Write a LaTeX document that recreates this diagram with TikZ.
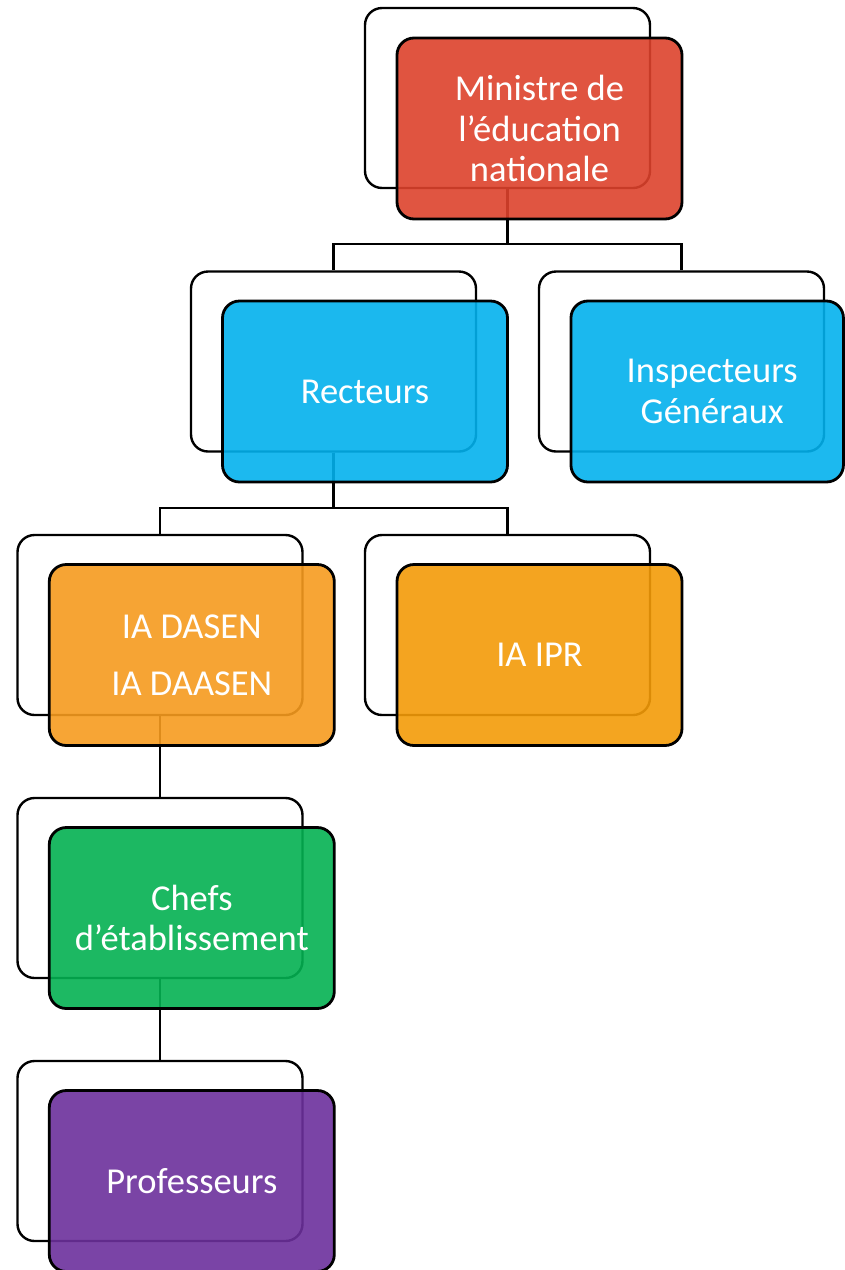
\documentclass[tikz,border=0pt]{standalone}
\usepackage{fontspec}
\setmainfont{Carlito}
\definecolor{cRed}{RGB}{221,66,44}
\definecolor{cBlue}{RGB}{3,177,237}
\definecolor{cOrangeA}{RGB}{246,155,31}
\definecolor{cOrangeB}{RGB}{243,155,8}
\definecolor{cGreen}{RGB}{4,177,82}
\definecolor{cPurple}{RGB}{108,48,156}
\tikzset{
  backbox/.style={draw=black, line width=2.4pt, fill=white, rounded corners=17pt,
    minimum width=285pt, minimum height=180pt, inner sep=0pt},
  frontbox/.style={draw=black, line width=2.8pt, rounded corners=17pt,
    fill opacity=0.9, text opacity=1, text=white,
    minimum width=285pt, minimum height=181pt, inner sep=0pt, align=center,
    font=\fontsize{36.5}{40.5}\selectfont},
  link/.style={draw=black, line width=2.4pt},
}
\begin{document}
\begin{tikzpicture}[x=1pt,y=-1pt]
\useasboundingbox (0,0) rectangle (844,1270);
% back boxes
\node[backbox] (mB) at (507.5,98) {};
\node[backbox] (rB) at (333.5,361.5) {};
\node[backbox] (iB) at (681.5,361.5) {};
\node[backbox] (dB) at (160,625) {};
\node[backbox] (pB) at (507.5,625) {};
\node[backbox] (cB) at (160,888) {};
\node[backbox] (fB) at (160,1151) {};
% connectors
\coordinate (j1) at (507.5,244);
\coordinate (j2) at (333.5,508);
\draw[link] (mB.south) -- (j1) -| (rB.north);
\draw[link] (j1) -| (iB.north);
\draw[link] (rB.south) -- (j2) -| (dB.north);
\draw[link] (j2) -| (pB.north);
\draw[link] (dB.south) -- (cB.north);
\draw[link] (cB.south) -- (fB.north);
% front boxes
\node[frontbox, fill=cRed] (m) at (539.5,128.5) {Ministre de\\l’éducation\\nationale};
\node[frontbox, fill=cBlue] (r) at (365,391.5) {Recteurs};
\node[frontbox, fill=cBlue, minimum width=272.5pt] (i) at (707.2,391.5) {\hspace*{10pt}Inspecteurs\\\hspace*{10pt}Généraux};
\node[frontbox, fill=cOrangeA] (d) at (191.8,655) {IA DASEN\\[16.5pt]IA DAASEN};
\node[frontbox, fill=cOrangeB] (p) at (539.5,655) {IA IPR};
\node[frontbox, fill=cGreen] (c) at (191.8,918) {Chefs\\d’établissement};
\node[frontbox, fill=cPurple] (f) at (191.8,1181) {Professeurs};
\end{tikzpicture}
\end{document}
